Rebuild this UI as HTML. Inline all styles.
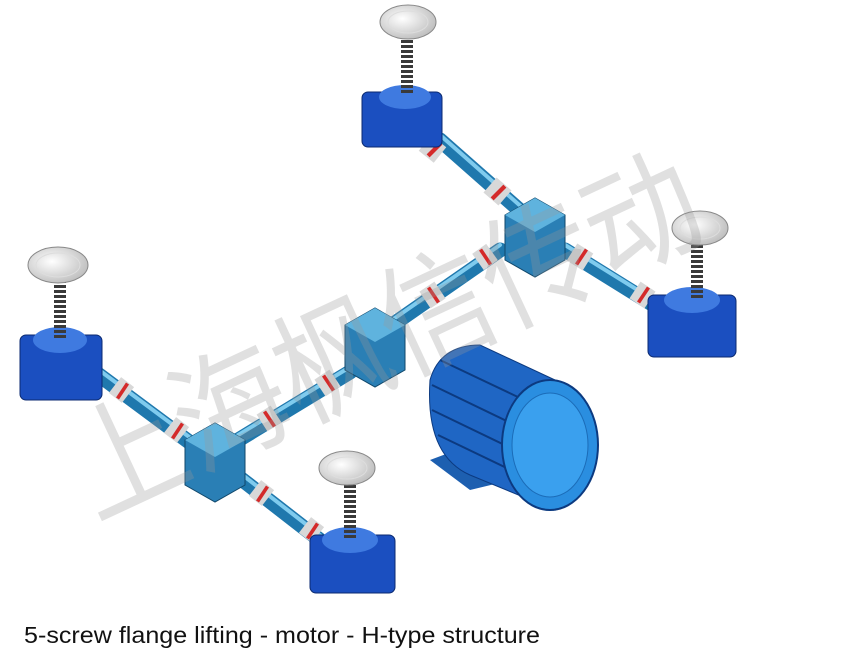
<!DOCTYPE html>
<html><head><meta charset="utf-8"><style>
html,body{margin:0;padding:0;background:#fff;width:842px;height:662px;overflow:hidden}
</style></head><body>
<svg width="842" height="662" viewBox="0 0 842 662" xmlns="http://www.w3.org/2000/svg">
<defs>
<radialGradient id="fl" cx="0.4" cy="0.4" r="0.7"><stop offset="0" stop-color="#ffffff"/><stop offset="1" stop-color="#b8b8b8"/></radialGradient>
</defs>
<g stroke-linecap="round">
<g stroke="#1f78ad" stroke-width="15">
<line x1="440" y1="140" x2="525" y2="215"/>
<line x1="565" y1="250" x2="665" y2="312"/>
<line x1="500" y1="250" x2="385" y2="330"/>
<line x1="350" y1="372" x2="230" y2="445"/>
<line x1="95" y1="372" x2="200" y2="450"/>
<line x1="240" y1="478" x2="330" y2="548"/>
</g>
<g stroke="#7fcbee" stroke-width="4">
<line x1="440" y1="135" x2="525" y2="210"/>
<line x1="565" y1="245" x2="665" y2="307"/>
<line x1="500" y1="245" x2="385" y2="325"/>
<line x1="350" y1="367" x2="230" y2="440"/>
<line x1="95" y1="367" x2="200" y2="445"/>
<line x1="240" y1="473" x2="330" y2="543"/>
</g>
</g>
<g stroke-width="20" stroke-linecap="butt">
<g stroke="#d8d8d8">
<line x1="425" y1="143" x2="440" y2="155"/><line x1="490" y1="185" x2="505" y2="198"/>
<line x1="572" y1="252" x2="588" y2="262"/><line x1="635" y1="290" x2="650" y2="300"/>
<line x1="478" y1="262" x2="492" y2="252"/><line x1="425" y1="300" x2="440" y2="290"/>
<line x1="320" y1="388" x2="335" y2="378"/><line x1="262" y1="423" x2="276" y2="414"/>
<line x1="115" y1="385" x2="128" y2="395"/><line x1="170" y1="425" x2="183" y2="435"/>
<line x1="255" y1="488" x2="268" y2="498"/><line x1="305" y1="525" x2="318" y2="535"/>
</g>
<g stroke="#d42a2a" stroke-width="18">
<line x1="433" y1="148" x2="436" y2="151"/><line x1="497" y1="191" x2="500" y2="194"/>
<line x1="580" y1="256" x2="583" y2="258"/><line x1="642" y1="294" x2="645" y2="296"/>
<line x1="484" y1="258" x2="487" y2="256"/><line x1="432" y1="296" x2="435" y2="294"/>
<line x1="327" y1="384" x2="330" y2="382"/><line x1="268" y1="420" x2="271" y2="418"/>
<line x1="121" y1="390" x2="124" y2="392"/><line x1="176" y1="430" x2="179" y2="432"/>
<line x1="261" y1="493" x2="264" y2="495"/><line x1="311" y1="530" x2="314" y2="532"/>
</g>
</g>
<g>
<polygon points="505,215 535,198 565,215 565,260 535,277 505,260" fill="#2a7fb5" stroke="#10476a"/>
<polygon points="505,215 535,198 565,215 535,232" fill="#5fb3de"/>
<polygon points="345,325 375,308 405,325 405,370 375,387 345,370" fill="#2a7fb5" stroke="#10476a"/>
<polygon points="345,325 375,308 405,325 375,342" fill="#5fb3de"/>
<polygon points="185,440 215,423 245,440 245,485 215,502 185,485" fill="#2a7fb5" stroke="#10476a"/>
<polygon points="185,440 215,423 245,440 215,457" fill="#5fb3de"/>
</g>
<g fill="#1b4fc0" stroke="#0b2a70">
<rect x="362" y="92" width="80" height="55" rx="6"/>
<rect x="648" y="295" width="88" height="62" rx="6"/>
<rect x="20" y="335" width="82" height="65" rx="6"/>
<rect x="310" y="535" width="85" height="58" rx="6"/>
</g>
<g fill="#3f7ae0">
<ellipse cx="405" cy="97" rx="26" ry="12"/><ellipse cx="692" cy="300" rx="28" ry="13"/>
<ellipse cx="60" cy="340" rx="27" ry="13"/><ellipse cx="350" cy="540" rx="28" ry="13"/>
</g>
<g stroke="#3a3a3a" stroke-width="12" stroke-dasharray="3 2">
<line x1="407" y1="35" x2="407" y2="95"/><line x1="697" y1="240" x2="697" y2="298"/>
<line x1="60" y1="280" x2="60" y2="338"/><line x1="350" y1="480" x2="350" y2="538"/>
</g>
<g fill="url(#fl)" stroke="#888">
<ellipse cx="408" cy="22" rx="28" ry="17"/><ellipse cx="700" cy="228" rx="28" ry="17"/>
<ellipse cx="58" cy="265" rx="30" ry="18"/><ellipse cx="347" cy="468" rx="28" ry="17"/>
</g>
<g fill="none" stroke="#ddd">
<ellipse cx="408" cy="22" rx="20" ry="11"/><ellipse cx="700" cy="228" rx="20" ry="11"/>
<ellipse cx="58" cy="265" rx="22" ry="12"/><ellipse cx="347" cy="468" rx="20" ry="11"/>
</g>
<polygon points="430,460 470,490 520,478 470,445" fill="#1d5fb0"/>
<path d="M430,380 Q440,345 480,345 L555,380 L555,510 L470,475 Q425,455 430,380Z" fill="#1f66c4" stroke="#0c3a80"/>
<g stroke="#0c3a80" stroke-width="2">
<line x1="440" y1="360" x2="520" y2="398"/><line x1="432" y1="385" x2="515" y2="425"/>
<line x1="432" y1="410" x2="515" y2="450"/><line x1="438" y1="435" x2="515" y2="472"/>
</g>
<ellipse cx="550" cy="445" rx="48" ry="65" fill="#2a8ee0" stroke="#0c3a80" stroke-width="2"/>
<ellipse cx="550" cy="445" rx="38" ry="52" fill="#3aa0ee" stroke="#1b6cb8"/>
<text x="0" y="0" transform="translate(95,520) rotate(-25)" font-family="'Liberation Sans','Noto Sans CJK SC',sans-serif" font-size="125" fill="#999" fill-opacity="0.3" textLength="680" lengthAdjust="spacingAndGlyphs">上海枫信传动</text>
<text x="24" y="643" font-family="'Liberation Sans',sans-serif" font-size="23" fill="#111" textLength="516" lengthAdjust="spacingAndGlyphs">5-screw flange lifting - motor - H-type structure</text>
</svg>
</body></html>
